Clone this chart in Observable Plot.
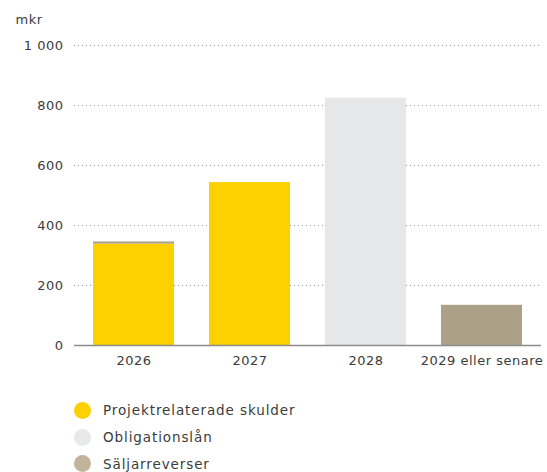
<!DOCTYPE html>
<html>
<head>
<meta charset="utf-8">
<script src="https://cdn.jsdelivr.net/npm/d3@7"></script>
<script src="https://cdn.jsdelivr.net/npm/@observablehq/plot@0.6"></script>
<style>
  body { margin: 0; background: #fff; font-family: "DejaVu Sans", sans-serif; color: #3c3c3c; }
  #chart svg { display: block; }
  .legend { padding-top: 24px; padding-left: 74px; }
  .item { display: flex; align-items: center; height: 26.7px; font-size: 13.5px; letter-spacing: 0.9px; color: #3c3c3c; }
  .sw { width: 17px; height: 17px; border-radius: 50%; margin-right: 12px; flex: none; }
</style>
</head>
<body>
<div id="chart"></div>
<div class="legend" id="legend"></div>
<script>
const categories = ["2026", "2027", "2028", "2029 eller senare"];
const seriesNames = ["Projektrelaterade skulder", "Obligationslån", "Säljarreverser"];
const projektrelaterade = [338, 543, 0, 0];
const obligationslan = [0, 0, 824, 0];
const saljarreverser = [7, 0, 0, 134];
const barColors = ["#FDD000", "#E6E7E8", "#ACA088"];
const legendColors = ["#FDD000", "#E8E9E9", "#C2B49A"];
const yTicks = [0, 200, 400, 600, 800, 1000];
const unitLabel = "mkr";

const seriesValues = [projektrelaterade, obligationslan, saljarreverser];
const data = [];
seriesNames.forEach((s, si) => {
  categories.forEach((c, ci) => data.push({ year: c, series: s, value: seriesValues[si][ci] }));
});

const fmt = d => d >= 1000 ? d3.format(",")(d).replace(/,/g, " ") : String(d);

const chart = Plot.plot({
  width: 547,
  height: 373,
  marginTop: 45,
  marginBottom: 28,
  marginLeft: 74,
  marginRight: 6,
  style: { fontFamily: "DejaVu Sans, sans-serif", fontSize: "13px", color: "#3c3c3c", letterSpacing: "0.5px" },
  x: { domain: categories, paddingInner: 0.3, paddingOuter: 0.15, label: null },
  y: { domain: [0, 1000], label: null },
  color: { domain: seriesNames, range: barColors },
  marks: [
    Plot.gridY(yTicks.slice(1), { stroke: "#9a9a9a", strokeOpacity: 1, strokeDasharray: "1,3" }),
    Plot.axisY(yTicks, { tickSize: 0, tickPadding: 11, tickFormat: fmt, fontSize: 13, fill: "#3c3c3c" }),
    Plot.axisX({ tickSize: 0, tickPadding: 10, fontSize: 13, fill: "#3c3c3c" }),
    Plot.barY(data, { x: "year", y: "value", fill: "series", order: seriesNames }),
    Plot.ruleY([0], { stroke: "#8c8c8c", strokeWidth: 1.5 }),
    Plot.text([unitLabel], { frameAnchor: "top-left", text: d => d, dx: -59, dy: -22, textAnchor: "start", lineAnchor: "bottom", fontSize: 13, fill: "#3c3c3c" })
  ]
});
document.getElementById("chart").appendChild(chart);

const legend = document.getElementById("legend");
seriesNames.forEach((s, i) => {
  const it = document.createElement("div");
  it.className = "item";
  const sw = document.createElement("span");
  sw.className = "sw";
  sw.style.background = legendColors[i];
  const t = document.createElement("span");
  t.textContent = s;
  it.appendChild(sw);
  it.appendChild(t);
  legend.appendChild(it);
});
</script>
</body>
</html>
